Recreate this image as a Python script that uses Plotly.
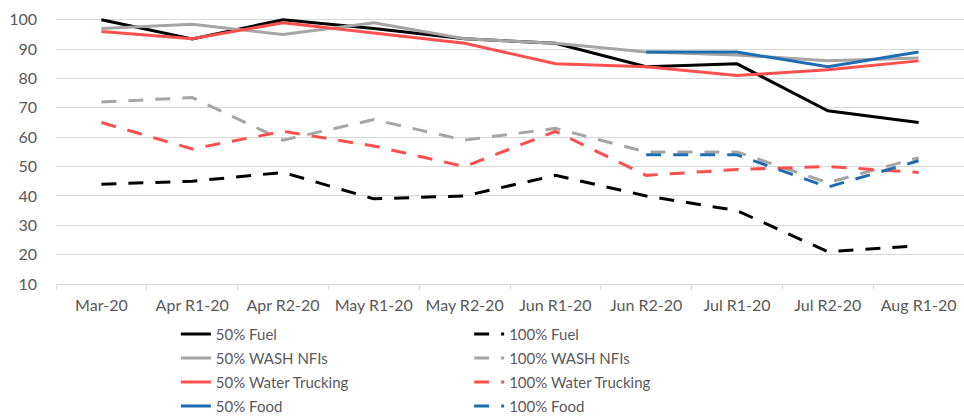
import plotly.graph_objects as go

categories = ["Mar-20", "Apr R1-20", "Apr R2-20", "May R1-20", "May R2-20",
              "Jun R1-20", "Jun R2-20", "Jul R1-20", "Jul R2-20", "Aug R1-20"]

fuel_50 = [100, 93.5, 100, 97, 93.5, 92, 84, 85, 69, 65]
wash_50 = [97, 98.5, 95, 99, 93.5, 92, 89, 88, 86, 87]
water_50 = [96, 93.5, 99, 95.5, 92, 85, 84, 81, 83, 86]
food_50 = [None, None, None, None, None, None, 89, 89, 84, 89]

fuel_100 = [44, 45, 48, 39, 40, 47, 40, 35, 21, 23]
wash_100 = [72, 73.5, 59, 66, 59, 63, 55, 55, 44.5, 53]
water_100 = [65, 56, 62, 57, 50, 62, 47, 49, 50, 48]
food_100 = [None, None, None, None, None, None, 54, 54, 43, 52]

y_ticks = [10, 20, 30, 40, 50, 60, 70, 80, 90, 100]

BLACK = "#000000"
GRAY = "#A5A5A5"
RED = "#FF5050"
BLUE = "#1F6CB0"
DASH = "15px,12px"
FONT = "Lato"
TXT = "#595959"

series = [
    ("50% Fuel", fuel_50, BLACK, "solid", "legend"),
    ("50% WASH NFIs", wash_50, GRAY, "solid", "legend"),
    ("50% Water Trucking", water_50, RED, "solid", "legend"),
    ("50% Food", food_50, BLUE, "solid", "legend"),
    ("100% Fuel", fuel_100, BLACK, DASH, "legend2"),
    ("100% WASH NFIs", wash_100, GRAY, DASH, "legend2"),
    ("100% Water Trucking", water_100, RED, DASH, "legend2"),
    ("100% Food", food_100, BLUE, DASH, "legend2"),
]

fig = go.Figure()
for name, vals, color, dash, leg in series:
    fig.add_trace(go.Scatter(
        x=categories, y=vals, name=name, mode="lines",
        line=dict(color=color, width=3, dash=dash),
        legend=leg, legendgroup=name, connectgaps=False,
    ))

legend_common = dict(
    orientation="v", xanchor="left", yanchor="top",
    font=dict(family=FONT, size=15, color=TXT),
    tracegroupgap=1.5, bgcolor="rgba(0,0,0,0)", borderwidth=0,
)

fig.update_layout(
    width=964, height=416,
    margin=dict(l=56, r=0, t=18, b=132, autoexpand=False),
    paper_bgcolor="white", plot_bgcolor="white",
    font=dict(family=FONT, size=15, color=TXT),
    legend=dict(x=0.132, y=-0.127, **legend_common),
    legend2=dict(x=0.455, y=-0.127, **legend_common),
    showlegend=True,
)

fig.update_xaxes(
    type="category", showgrid=False, showline=True, linecolor="#D9D9D9",
    linewidth=1, ticks="outside", ticklen=5, tickcolor="#D9D9D9",
    tickson="boundaries", tickfont=dict(family=FONT, size=16, color=TXT),
    range=[-0.5, 9.5], zeroline=False, ticklabelstandoff=7,
)
fig.update_yaxes(
    range=[10, 100.6], tickvals=y_ticks, showgrid=True, gridcolor="#D9D9D9",
    gridwidth=1, zeroline=False, showline=False, ticks="",
    tickfont=dict(family=FONT, size=16, color=TXT), ticklabelstandoff=18,
)

fig.write_html("out.html", config={"displayModeBar": False},
               post_script="document.body.style.margin='0';")
